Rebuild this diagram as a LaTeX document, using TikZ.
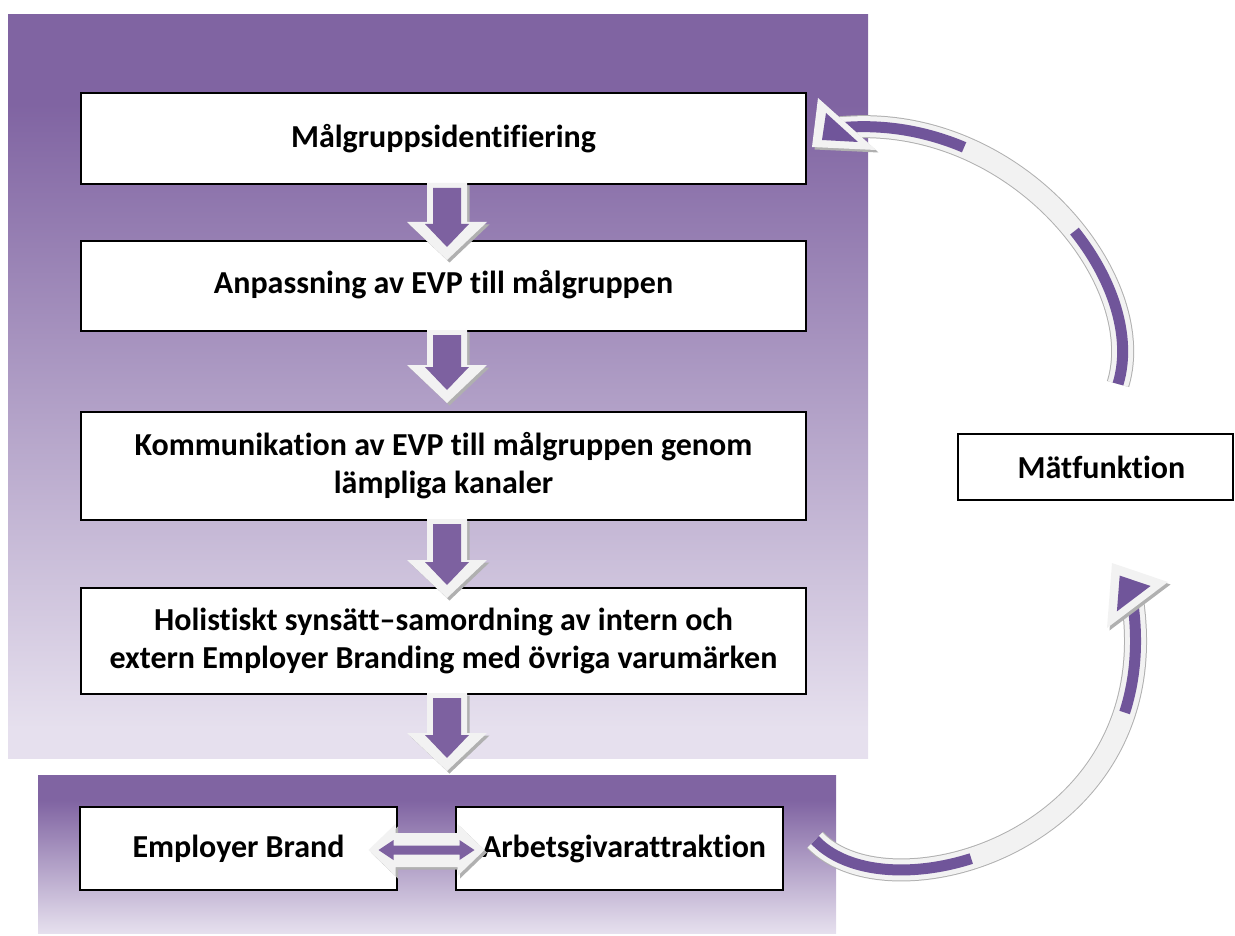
\documentclass[tikz,border=0pt]{standalone}
\usepackage{fontspec}
\setmainfont{Carlito}[Ligatures={NoCommon}]
\usetikzlibrary{calc}
\definecolor{ptop}{HTML}{8064A2}
\definecolor{pbot}{HTML}{E6E0EE}
\definecolor{apurple}{HTML}{7D61A0}
\definecolor{cpurple}{HTML}{70559A}
\definecolor{awhite}{HTML}{F2F2F2}
\definecolor{ashadow}{HTML}{B0B0B0}
\pgfdeclareverticalshading{panelA}{100bp}{color(0bp)=(pbot); color(27bp)=(pbot); color(69bp)=(ptop); color(100bp)=(ptop)}
\pgfdeclareverticalshading{panelB}{100bp}{color(0bp)=(pbot); color(25bp)=(pbot); color(67bp)=(ptop); color(100bp)=(ptop)}
\tikzset{
  box/.style={draw=black, line width=2pt, fill=white, align=center,
    font=\bfseries\fontsize{32}{38}\selectfont, inner sep=0pt},
  mainbox/.style={box, minimum width=725pt},
  wshape/.style={fill=awhite},
  sshape/.style={fill=ashadow, xshift=2.5pt, yshift=-2.5pt},
  pshape/.style={fill=apurple},
}
\newcommand{\blockdown}[2]{%
  \begin{scope}[shift={(#1.south)}, xshift=3.5pt]
    \fill[sshape] (-20,-2) -- (20,-2) -- (20,#2-38) -- (40,#2-38) -- (0,#2) -- (-40,#2-38) -- (-20,#2-38) -- cycle;
    \fill[wshape] (-20,-2) -- (20,-2) -- (20,#2-38) -- (40,#2-38) -- (0,#2) -- (-40,#2-38) -- (-20,#2-38) -- cycle;
    \fill[pshape] (-14,3) -- (14,3) -- (14,#2-36) -- (22,#2-36) -- (0,#2-13) -- (-22,#2-36) -- (-14,#2-36) -- cycle;
  \end{scope}}
\begin{document}
\begin{tikzpicture}[x=1pt,y=-1pt]
\useasboundingbox (0,0) rectangle (1235,936);
% panels
\shade[shading=panelA] (8,15) rectangle (868,758);
\shade[shading=panelB] (38,775) rectangle (836,933);
% boxes
\node[mainbox, minimum height=91pt] (b1) at (443.5,138.5) {\raisebox{6pt}{Målgruppsidentifiering}};
\node[mainbox, minimum height=90pt] (b2) at (443.5,286) {\raisebox{9pt}{Anpassning av EVP till målgruppen}};
\node[mainbox, minimum height=108pt] (b3) at (443.5,466) {Kommunikation av EVP till målgruppen genom\\lämpliga kanaler};
\node[mainbox, minimum height=106pt] (b4) at (443.5,641) {\raisebox{-4pt}{Holistiskt synsätt–samordning av intern och}\\\raisebox{-4pt}{extern Employer Branding med övriga varumärken}};
\node[box, minimum width=317pt, minimum height=83pt] (eb) at (238.5,848.5) {\raisebox{5pt}{Employer Brand}};
\node[box, minimum width=327pt, minimum height=83pt] (arb) at (619.5,848.5) {\raisebox{5pt}{\hspace*{9pt}Arbetsgivarattraktion}};
\node[box, minimum width=275pt, minimum height=66pt] (mat) at (1095.5,467) {\hspace*{12pt}Mätfunktion};
% down arrows
\blockdown{b1}{75}
\blockdown{b2}{71}
\blockdown{b3}{77}
\blockdown{b4}{76}
% double arrow
\begin{scope}[shift={($(eb.east)!0.5!(arb.west)$)}, yshift=-1.5pt]
  \fill[sshape] (-58,0) -- (-31,-26) -- (-31,-17) -- (31,-17) -- (31,-26) -- (58,0) -- (31,26) -- (31,17) -- (-31,17) -- (-31,26) -- cycle;
  \fill[wshape] (-58,0) -- (-31,-26) -- (-31,-17) -- (31,-17) -- (31,-26) -- (58,0) -- (31,26) -- (31,17) -- (-31,17) -- (-31,26) -- cycle;
  \fill[pshape] (-48,0) -- (-33,-10) -- (-33,-4.5) -- (33,-4.5) -- (33,-10) -- (48,0) -- (33,10) -- (33,4.5) -- (-33,4.5) -- (-33,10) -- cycle;
\end{scope}
% top curved arrow: Mätfunktion -> Målgruppsidentifiering
\coordinate (ta) at ($(mat.north)+(22.5,-49)$);
\coordinate (tb) at ($(b1.east)+(31,-10.5)$);
\draw[ashadow, line width=23pt, xshift=2pt, yshift=-2pt] (ta) .. controls +(32,-105) and +(175,-18) .. (tb);
\draw[awhite, line width=21pt] (ta) .. controls +(32,-105) and +(175,-18) .. (tb);
\draw[cpurple, line width=11pt, dash pattern=on 165pt off 140pt on 600pt] (ta) .. controls +(32,-105) and +(175,-18) .. (tb);
\begin{scope}[shift={(b1.east)}]
  \fill[sshape] (11,-40.5) -- (69,11.5) -- (5,8.5) -- cycle;
  \fill[wshape] (11,-40.5) -- (69,11.5) -- (5,8.5) -- cycle;
  \fill[cpurple] (19,-25.5) -- (51,3.5) -- (15,1.5) -- cycle;
\end{scope}
% bottom curved arrow: Arbetsgivarattraktion -> Mätfunktion
\coordinate (ba) at ($(arb.east)+(31,-8.5)$);
\coordinate (bb) at ($(mat.south)+(36.5,96)$);
\draw[ashadow, line width=23pt, xshift=2pt, yshift=-2pt] (ba) .. controls +(75,80) and +(38,243) .. (bb);
\draw[awhite, line width=21pt] (ba) .. controls +(75,80) and +(38,243) .. (bb);
\draw[cpurple, line width=11pt, dash pattern=on 165pt off 220pt on 600pt] (ba) .. controls +(75,80) and +(38,243) .. (bb);
\begin{scope}[shift={(mat.south)}]
  \fill[sshape] (16.5,62) -- (11.5,127) -- (72.5,81) -- cycle;
  \fill[wshape] (16.5,62) -- (11.5,127) -- (72.5,81) -- cycle;
  \fill[cpurple] (24.2,74.6) -- (21.4,110.4) -- (55,85) -- cycle;
\end{scope}
\end{tikzpicture}
\end{document}
